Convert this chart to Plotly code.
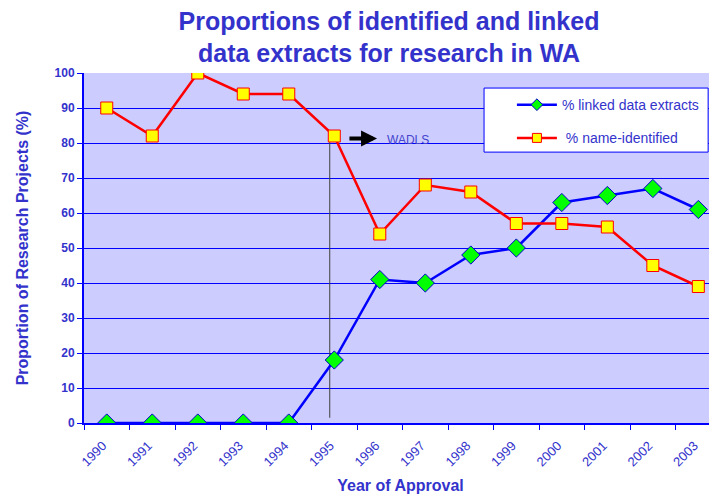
import plotly.graph_objects as go

years = ["1990", "1991", "1992", "1993", "1994", "1995", "1996", "1997",
         "1998", "1999", "2000", "2001", "2002", "2003"]
linked = [0, 0, 0, 0, 0, 18, 41, 40, 48, 50, 63, 65, 67, 61]
name_identified = [90, 82, 100, 94, 94, 82, 54, 68, 66, 57, 57, 56, 45, 39]

# WADLS marker line (position in category units, y-span in %)
wadls_x = [4.9, 4.9]
wadls_y = [1.5, 81.5]

xpos = list(range(len(years)))
TXT = "#3333CC"
FONT = "Liberation Sans, Arial, sans-serif"

LINKED_NAME = "% linked data extracts"
NAMEID_NAME = " % name-identified"

fig = go.Figure()
fig.add_trace(go.Scatter(
    x=wadls_x, y=wadls_y, mode="lines",
    line=dict(color="#404040", width=1), showlegend=False, hoverinfo="skip"))
fig.add_trace(go.Scatter(
    x=xpos, y=linked, mode="lines+markers", name=LINKED_NAME,
    showlegend=False,
    line=dict(color="#0000FF", width=2.5),
    marker=dict(symbol="diamond", size=14, color="#00FF00",
                line=dict(color="#0000CC", width=1))))
fig.add_trace(go.Scatter(
    x=xpos, y=name_identified, mode="lines+markers", name=NAMEID_NAME,
    showlegend=False,
    line=dict(color="#FF0000", width=2.5),
    marker=dict(symbol="square", size=12, color="#FFFF00",
                line=dict(color="#FF0000", width=1))))
# legend entries (smaller legend symbols, as in the original)
fig.add_trace(go.Scatter(
    x=[None], y=[None], mode="lines+markers", name=LINKED_NAME, legendgroup="a",
    line=dict(color="#0000FF", width=2.5),
    marker=dict(symbol="diamond", size=9, color="#00FF00",
                line=dict(color="#0000CC", width=1))))
fig.add_trace(go.Scatter(
    x=[None], y=[None], mode="lines+markers", name=NAMEID_NAME, legendgroup="b",
    line=dict(color="#FF0000", width=2.5),
    marker=dict(symbol="square", size=9, color="#FFFF00",
                line=dict(color="#FF0000", width=1))))

fig.add_annotation(x=5.94, y=81.3, ax=5.3, ay=81.3, xref="x", yref="y",
                   axref="x", ayref="y", text="", showarrow=True,
                   arrowhead=2, arrowsize=0.8, arrowwidth=4, arrowcolor="#000000")
fig.add_annotation(x=6.12, y=80.8, xref="x", yref="y", text="WADLS",
                   showarrow=False, xanchor="left",
                   font=dict(family=FONT, size=12, color="#4444CC"))

# legend frame
fig.add_shape(type="rect", xref="paper", yref="paper",
              x0=0.632, x1=0.986, y0=0.774, y1=0.957,
              fillcolor="#FFFFFF", line=dict(color="#0000FF", width=1), layer="above")

fig.update_layout(
    width=709, height=487, autosize=False,
    margin=dict(l=76, r=0, t=65, b=72),
    paper_bgcolor="#FFFFFF", plot_bgcolor="#CCCCFF",
    font=dict(family=FONT, color=TXT),
    title=dict(text="Proportions of identified and linked<br>data extracts for research in WA",
               x=381 / 709, xanchor="center", y=0.955, yanchor="top",
               font=dict(family=FONT, size=25, color=TXT, weight="bold")),
    legend=dict(x=0.676, y=0.954, xanchor="left", yanchor="top",
                bgcolor="rgba(0,0,0,0)", borderwidth=0,
                font=dict(family=FONT, size=14, color=TXT),
                itemwidth=40, tracegroupgap=12),
    showlegend=True,
)
fig.update_xaxes(
    range=[-0.5, 13.41], tickmode="array", tickvals=xpos, ticktext=years,
    tickangle=-45, ticks="", showgrid=False, zeroline=False,
    showline=True, linecolor="#0000FF", linewidth=2,
    ticklabelstandoff=8, ticklabelshift=-4,
    tickfont=dict(family=FONT, size=13, color=TXT),
    minor=dict(tickmode="array", tickvals=[i + 0.5 for i in xpos[:-1]] + [-0.5],
               ticks="outside", ticklen=5, tickcolor="#0000FF", tickwidth=1),
    title=dict(text="Year of Approval", standoff=12,
               font=dict(family=FONT, size=16, color=TXT, weight="bold")))
fig.update_yaxes(
    range=[0, 100], dtick=10, ticks="outside", ticklen=5, tickcolor="#0000FF",
    showgrid=True, gridcolor="#0000FF", gridwidth=1, zeroline=False,
    showline=True, linecolor="#0000FF", linewidth=2,
    tickfont=dict(family=FONT, size=12, color=TXT, weight="bold"),
    title=dict(text="Proportion of Research Projects (%)", standoff=22,
               font=dict(family=FONT, size=16, color=TXT, weight="bold")))

fig.write_html("out.html")
